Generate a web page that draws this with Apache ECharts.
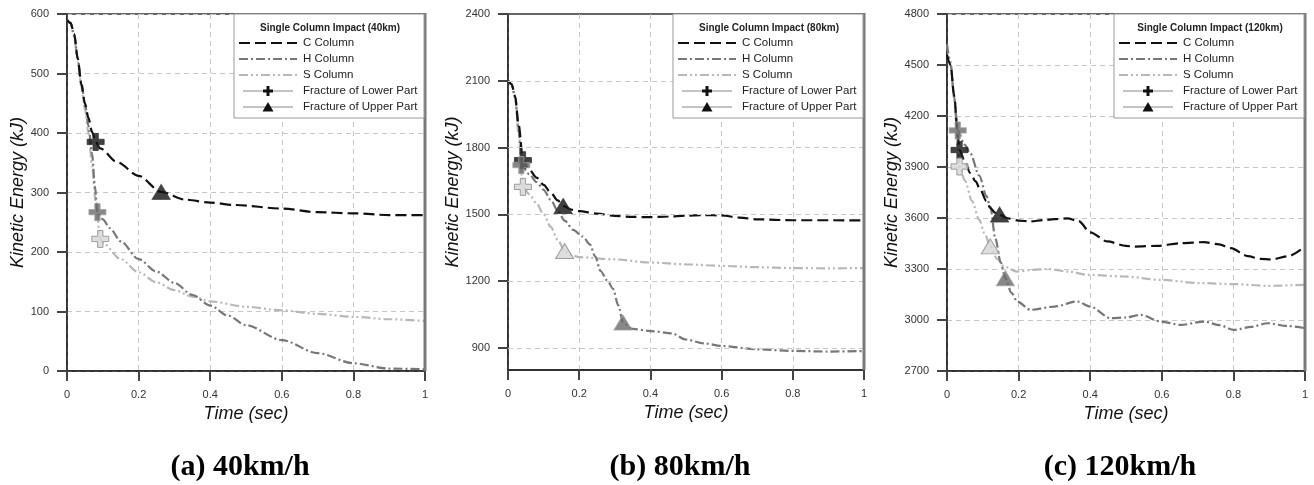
<!DOCTYPE html>
<html><head><meta charset="utf-8">
<script src="https://cdn.jsdelivr.net/npm/echarts@6/dist/echarts.min.js"></script>
<style>html,body{margin:0;padding:0;background:#fff}#wrap{position:relative;width:1314px;height:485px}#c,#o{position:absolute;left:0;top:0;width:1314px;height:485px}#o{pointer-events:none}</style>
</head><body><div id="wrap"><div id="c"></div><div id="o"></div></div><script>
// ---------------- DATA ----------------
const xTicks = [0, 0.2, 0.4, 0.6, 0.8, 1];
const captions = ['(a) 40km/h', '(b) 80km/h', '(c) 120km/h'];
const legendTitles = ['Single Column Impact (40km)', 'Single Column Impact (80km)', 'Single Column Impact (120km)'];
const seriesNames = ['C Column', 'H Column', 'S Column', 'Fracture of Lower Part', 'Fracture of Upper Part'];
const yTicksA = [0, 100, 200, 300, 400, 500, 600];
const yTicksB = [900, 1200, 1500, 1800, 2100, 2400];
const yTicksC = [2700, 3000, 3300, 3600, 3900, 4200, 4500, 4800];

// Panel (a) 40 km/h
const aC = [[0,590],[0.01,585],[0.02,567],[0.03,525],[0.04,482],[0.05,450],[0.06,425],[0.07,402],[0.08,385],[0.093,374],[0.14,351],[0.2,328],[0.263,301],[0.33,288],[0.4,283],[0.47,279],[0.6,273],[0.7,267],[0.8,265],[0.9,262],[1.0,262]];
const aH = [[0,590],[0.01,585],[0.02,565],[0.03,525],[0.04,485],[0.05,450],[0.06,412],[0.07,365],[0.078,310],[0.085,267],[0.1,255],[0.12,240],[0.15,218],[0.2,188],[0.25,167],[0.3,148],[0.35,128],[0.4,110],[0.45,93],[0.5,77],[0.6,52],[0.7,30],[0.8,13],[0.9,4],[1.0,3]];
const aS = [[0,590],[0.01,584],[0.02,562],[0.03,520],[0.04,478],[0.05,440],[0.06,400],[0.07,345],[0.08,285],[0.093,222],[0.1,215],[0.15,188],[0.2,166],[0.25,149],[0.3,136],[0.35,125],[0.4,117],[0.5,108],[0.6,102],[0.7,96],[0.8,91],[0.9,87],[1.0,84]];
const aLower = [[0.08,385],[0.085,267],[0.093,222]];   // C, H, S
const aUpper = [[0.263,301]];                           // C

// Panel (b) 80 km/h
const bC = [[0,2100],[0.01,2085],[0.02,2030],[0.03,1900],[0.042,1743],[0.06,1700],[0.08,1665],[0.1,1632],[0.12,1597],[0.14,1562],[0.155,1537],[0.18,1520],[0.2,1514],[0.25,1503],[0.3,1493],[0.35,1488],[0.4,1487],[0.45,1490],[0.5,1494],[0.55,1496],[0.6,1495],[0.65,1485],[0.7,1477],[0.8,1473],[0.9,1473],[1.0,1472]];
const bH = [[0,2100],[0.01,2085],[0.02,2030],[0.03,1880],[0.0375,1721],[0.06,1680],[0.08,1645],[0.1,1610],[0.12,1565],[0.14,1515],[0.16,1470],[0.183,1430],[0.21,1400],[0.23,1365],[0.245,1310],[0.26,1245],[0.28,1200],[0.295,1165],[0.31,1090],[0.323,1013],[0.35,985],[0.4,975],[0.46,965],[0.5,937],[0.55,920],[0.6,908],[0.7,893],[0.8,886],[0.9,883],[1.0,885]];
const bS = [[0,2100],[0.01,2083],[0.02,2020],[0.03,1860],[0.042,1623],[0.06,1590],[0.08,1550],[0.1,1500],[0.12,1443],[0.14,1385],[0.159,1335],[0.18,1315],[0.2,1307],[0.3,1297],[0.4,1283],[0.5,1275],[0.6,1268],[0.7,1262],[0.8,1258],[0.9,1257],[1.0,1258]];
const bLower = [[0.042,1743],[0.0375,1721],[0.042,1623]]; // C, H, S
const bUpper = [[0.155,1537],[0.323,1013],[0.159,1335]];  // C, H, S

// Panel (c) 120 km/h
const cC = [[0,4560],[0.01,4500],[0.02,4320],[0.03,4090],[0.035,4000],[0.05,3930],[0.065,3864],[0.08,3815],[0.093,3766],[0.11,3700],[0.121,3658],[0.135,3630],[0.147,3619],[0.17,3598],[0.2,3585],[0.233,3580],[0.27,3588],[0.3,3593],[0.336,3598],[0.368,3582],[0.4,3515],[0.448,3462],[0.5,3436],[0.522,3432],[0.588,3436],[0.653,3452],[0.718,3458],[0.76,3445],[0.793,3423],[0.84,3376],[0.875,3360],[0.905,3356],[0.951,3374],[1.0,3432]];
const cH = [[0,4620],[0.01,4500],[0.02,4310],[0.03,4115],[0.05,4030],[0.065,3980],[0.09,3850],[0.11,3730],[0.121,3668],[0.135,3480],[0.15,3340],[0.163,3246],[0.18,3160],[0.196,3109],[0.233,3060],[0.3,3079],[0.364,3109],[0.4,3079],[0.457,3011],[0.5,3015],[0.541,3030],[0.597,2991],[0.653,2971],[0.718,2991],[0.76,2970],[0.802,2942],[0.85,2960],[0.896,2981],[0.95,2965],[1.0,2952]];
const cS = [[0,4620],[0.01,4520],[0.02,4300],[0.03,4020],[0.035,3903],[0.05,3820],[0.07,3700],[0.09,3590],[0.105,3510],[0.121,3433],[0.14,3360],[0.159,3315],[0.196,3285],[0.24,3295],[0.28,3300],[0.34,3285],[0.392,3266],[0.494,3256],[0.597,3236],[0.709,3217],[0.802,3211],[0.896,3201],[1.0,3207]];
const cLower = [[0.035,4000],[0.03,4115],[0.035,3903]]; // C, H, S
const cUpper = [[0.147,3620],[0.163,3246],[0.121,3433]]; // C, H, S

// ---------------- STYLE ----------------
const FONT = '"Liberation Sans", Arial, sans-serif';
const grids = [
  {left: 67, top: 14, width: 358, height: 357},
  {left: 508, top: 14, width: 356, height: 356},
  {left: 947, top: 14, width: 358, height: 357}
];
const yRanges = [
  {min: 0, max: 600, interval: 100, ticks: yTicksA, gap: 40},
  {min: 800, max: 2400, ticks: yTicksB, gap: 45, custom: true},
  {min: 2700, max: 4800, interval: 300, ticks: yTicksC, gap: 45}
];
const colC = '#111111', colH = '#777777', colS = '#b8b8b8';
const dashC = [11, 5], dashH = [9, 3, 2, 3], dashS = [9, 3, 2, 3, 2, 3];
const CROSS = 'path://M5.5,0H10.5V5.5H16V10.5H10.5V16H5.5V10.5H0V5.5H5.5Z';
const markerFill = [
  {color: '#111111', borderColor: '#333333'},
  {color: '#6a6a6a', borderColor: '#a0a0a0'},
  {color: '#d6d6d6', borderColor: '#8a8a8a'}
];

const panels = [
  {C: aC, H: aH, S: aS, lower: aLower, upper: aUpper, upperIdx: [0]},
  {C: bC, H: bH, S: bS, lower: bLower, upper: bUpper, upperIdx: [0, 1, 2]},
  {C: cC, H: cH, S: cS, lower: cLower, upper: cUpper, upperIdx: [0, 1, 2]}
];

const xAxes = [], yAxes = [], series = [], graphic = [];
const splitStyle = () => ({type: [5, 4], color: '#c8c8c8', width: 1});
const tickStyle = () => ({show: true, length: 10, lineStyle: {color: '#444', width: 2}});

panels.forEach((p, i) => {
  xAxes.push({
    type: 'value', gridIndex: i, min: 0, max: 1, interval: 0.2,
    name: 'Time (sec)', nameLocation: 'middle', nameGap: 32,
    nameTextStyle: {fontStyle: 'italic', fontSize: 18, color: '#111', fontFamily: FONT},
    axisLine: {show: true, onZero: false, lineStyle: {color: '#222', width: 1.5}},
    axisTick: tickStyle(),
    axisLabel: {margin: 18, fontSize: 11, color: '#333', fontFamily: FONT},
    splitLine: {show: true, lineStyle: splitStyle()}
  });
  const r = yRanges[i];
  const ya = {
    type: 'value', gridIndex: i, min: r.min, max: r.max,
    name: 'Kinetic Energy (kJ)', nameLocation: 'middle', nameGap: r.gap, nameRotate: 90,
    nameTextStyle: {fontStyle: 'italic', fontSize: 18, color: '#111', fontFamily: FONT},
    axisLine: {show: true, onZero: false, lineStyle: {color: '#222', width: 1.5}},
    axisTick: tickStyle(),
    axisLabel: {margin: 18, fontSize: 11, color: '#333', fontFamily: FONT, formatter: v => String(v)},
    splitLine: {show: !r.custom, lineStyle: splitStyle()}
  };
  if (r.custom) {
    ya.axisLabel.customValues = r.ticks;
    ya.axisTick.customValues = r.ticks;
  } else {
    ya.interval = r.interval;
  }
  yAxes.push(ya);
});

panels.forEach((p, i) => {
  if (yRanges[i].custom) {
    series.push({
      type: 'line', xAxisIndex: i, yAxisIndex: i, data: [], z: 1,
      markLine: {
        silent: true, symbol: 'none', label: {show: false},
        lineStyle: {type: [5, 4], color: '#c8c8c8', width: 1},
        data: yRanges[i].ticks.filter(v => v < yRanges[i].max).map(v => ({yAxis: v}))
      }
    });
  }
  const mk = (name, data, color, dash) => ({
    name, type: 'line', xAxisIndex: i, yAxisIndex: i, data,
    showSymbol: false, smooth: 0.3, smoothMonotone: 'x', z: 3,
    lineStyle: {color, width: 2.2, type: dash}
  });
  series.push(mk('S Column', p.S, colS, dashS));
  series.push(mk('H Column', p.H, colH, dashH));
  series.push(mk('C Column', p.C, colC, dashC));
  series.push({
    name: 'Fracture of Lower Part', type: 'scatter', xAxisIndex: i, yAxisIndex: i, z: 5,
    symbol: CROSS, symbolSize: 17,
    data: p.lower.map((d, k) => ({value: d, itemStyle: {color: markerFill[k].color, borderColor: markerFill[k].borderColor, borderWidth: 1}}))
  });
  series.push({
    name: 'Fracture of Upper Part', type: 'scatter', xAxisIndex: i, yAxisIndex: i, z: 5,
    symbol: 'triangle', symbolSize: [18, 15],
    data: p.upper.map((d, k) => {
      const f = markerFill[p.upperIdx[k]];
      return {value: d, itemStyle: {color: f.color, borderColor: f.borderColor, borderWidth: 1}};
    })
  });

  const g = grids[i];
  // thick grey right-hand frame edge
  graphic.push({
    type: 'line', shape: {x1: g.left + g.width, y1: g.top - 1, x2: g.left + g.width, y2: g.top + g.height},
    style: {stroke: '#7a7a7a', lineWidth: 3}
  });
  const bx = g.left + g.width - 191, by = g.top;
  const txt = (y, t) => ({type: 'text', x: 69, y, style: {text: t, font: '11.5px ' + FONT, fill: '#222', align: 'left', verticalAlign: 'middle'}});
  graphic.push({
    type: 'group', x: bx, y: by,
    children: [
      {type: 'rect', shape: {x: 0, y: 0, width: 190, height: 104}, style: {fill: '#fff', stroke: '#999', lineWidth: 1}},
      {type: 'text', x: 96, y: 14, style: {text: legendTitles[i], font: 'bold 10px ' + FONT, fill: '#222', align: 'center', verticalAlign: 'middle'}},
      {type: 'line', shape: {x1: 5, y1: 29, x2: 63, y2: 29}, style: {stroke: colC, lineWidth: 2, lineDash: dashC}},
      txt(29, seriesNames[0]),
      {type: 'line', shape: {x1: 5, y1: 45, x2: 63, y2: 45}, style: {stroke: colH, lineWidth: 2, lineDash: dashH}},
      txt(45, seriesNames[1]),
      {type: 'line', shape: {x1: 5, y1: 61, x2: 63, y2: 61}, style: {stroke: colS, lineWidth: 2, lineDash: dashS}},
      txt(61, seriesNames[2]),
      {type: 'line', shape: {x1: 9, y1: 77, x2: 59, y2: 77}, style: {stroke: '#888', lineWidth: 1}},
      {type: 'polygon', shape: {points: [[32.5,72],[35.5,72],[35.5,75.5],[39,75.5],[39,78.5],[35.5,78.5],[35.5,82],[32.5,82],[32.5,78.5],[29,78.5],[29,75.5],[32.5,75.5]]}, style: {fill: '#111'}},
      txt(77, seriesNames[3]),
      {type: 'line', shape: {x1: 9, y1: 93, x2: 59, y2: 93}, style: {stroke: '#888', lineWidth: 1}},
      {type: 'polygon', shape: {points: [[34, 88], [39.5, 97.5], [28.5, 97.5]]}, style: {fill: '#111'}},
      txt(93, seriesNames[4])
    ]
  });
  graphic.push({
    type: 'text', x: g.left + g.width / 2 - 6, y: 467,
    style: {text: captions[i], font: 'bold 30px "Liberation Serif", "Times New Roman", serif', fill: '#000', align: 'center', verticalAlign: 'middle'}
  });
});

const chart = echarts.init(document.getElementById('c'));
chart.setOption({
  animation: false,
  grid: grids.map(g => Object.assign({show: true, borderColor: '#333', borderWidth: 1.5}, g)),
  xAxis: xAxes,
  yAxis: yAxes,
  series
});
// legend boxes, right frame edges and captions drawn by a transparent overlay instance
const overlay = echarts.init(document.getElementById('o'));
overlay.setOption({animation: false, backgroundColor: 'transparent', graphic});
</script></body></html>
